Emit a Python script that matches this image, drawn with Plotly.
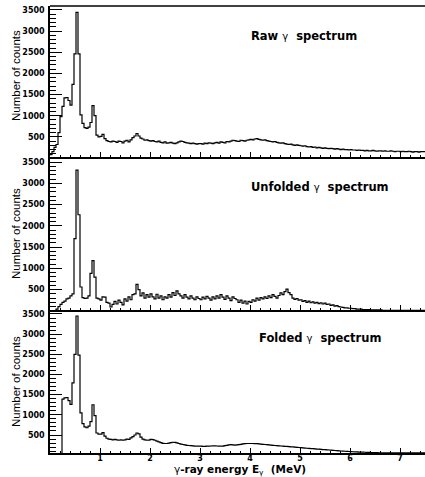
import plotly.graph_objects as go

# ---------------- data ----------------
bin_width = 0.04          # MeV
n_bins = 188              # 0 .. 7.52 MeV

raw_counts = (
    [80, 150, 250, 320, 600, 980, 1220, 1420, 1430, 1360, 1250, 1740, 2460, 3440, 2460, 1020, 820, 720, 700, 730, 840, 1240, 1000, 540, 500]
    + [510, 560, 460, 410, 390, 380, 400, 390, 370, 400, 390, 360, 400, 420, 380, 430, 480, 520, 580, 520, 470, 450, 420, 430, 410]
    + [400, 410, 390, 380, 400, 370, 360, 380, 350, 360, 370, 350, 340, 360, 380, 400, 390, 370, 360, 350, 340, 350, 340, 330, 340]
    + [340, 330, 350, 340, 360, 350, 340, 360, 370, 350, 380, 370, 360, 390, 380, 400, 420, 410, 400, 390, 420, 410, 400, 420, 430]
    + [440, 430, 450, 460, 440, 430, 420, 430, 410, 400, 390, 380, 390, 370, 360, 350, 360, 340, 330, 320, 330, 310, 300, 310, 300]
    + [290, 280, 290, 270, 260, 270, 250, 260, 240, 250, 240, 230, 240, 230, 220, 230, 220, 210, 220, 210, 200, 210, 200, 200, 190]
    + [200, 190, 190, 180, 190, 180, 180, 170, 180, 170, 170, 180, 170, 160, 170, 170, 160, 170, 160, 160, 170, 160, 150, 160, 160]
    + [150, 160, 150, 150, 160, 150, 140, 150, 150, 140, 150, 150, 150]
)

unfolded_counts = (
    [0, 0, 0, 40, 100, 150, 200, 230, 280, 300, 350, 400, 1700, 3310, 2260, 560, 310, 290, 300, 350, 880, 1180, 790, 300, 280]
    + [250, 330, 320, 200, 180, 90, 150, 220, 160, 250, 200, 140, 280, 230, 330, 260, 380, 400, 620, 500, 350, 420, 300, 380, 320]
    + [400, 330, 280, 390, 300, 350, 260, 330, 300, 380, 320, 430, 360, 470, 400, 350, 300, 380, 320, 280, 350, 300, 260, 330, 290]
    + [260, 320, 280, 340, 300, 250, 330, 280, 350, 300, 380, 320, 270, 350, 300, 240, 330, 290, 260, 200, 250, 180, 230, 160, 220]
    + [200, 260, 230, 300, 250, 310, 280, 330, 290, 350, 310, 380, 340, 300, 360, 420, 380, 450, 510, 430, 380, 300, 270, 290, 250]
    + [260, 220, 240, 200, 230, 190, 210, 180, 200, 170, 190, 160, 180, 150, 160, 130, 140, 110, 120, 100, 90, 80, 70, 70, 60]
    + [60, 50, 50, 40, 40, 40, 30, 30, 30, 30, 20, 20, 20, 20, 20, 20, 10, 10, 10, 10, 10, 10, 10, 10, 10]
    + [10, 10, 10, 10, 10, 10, 10, 10, 10, 10, 10, 10, 10]
)

folded_counts = (
    [0, 0, 0, 0, 0, 0, 1390, 1420, 1430, 1350, 1260, 1790, 2500, 3450, 2480, 1050, 780, 700, 680, 720, 830, 1250, 980, 550, 520]
    + [520, 560, 470, 420, 400, 390, 380, 390, 380, 370, 380, 370, 380, 400, 390, 430, 460, 500, 550, 530, 450, 400, 380, 370, 375]
    + [390, 385, 370, 350, 330, 310, 295, 290, 290, 300, 310, 320, 315, 305, 290, 275, 265, 255, 245, 240, 235, 230, 225, 225, 222]
    + [222, 220, 220, 222, 225, 228, 230, 232, 228, 225, 222, 225, 235, 245, 255, 260, 255, 250, 255, 260, 270, 280, 285, 290, 290]
    + [290, 290, 288, 285, 280, 275, 270, 265, 260, 255, 250, 245, 240, 235, 232, 228, 224, 220, 216, 212, 208, 205, 200, 195, 190]
    + [185, 180, 176, 172, 168, 164, 160, 156, 152, 148, 144, 140, 136, 132, 128, 124, 120, 116, 112, 108, 104, 100, 97, 94, 91]
    + [88, 85, 82, 80, 78, 76, 74, 72, 70, 68, 66, 64, 62, 61, 60, 59, 58, 58, 57, 57, 56, 56, 56, 55, 55]
    + [55, 55, 55, 55, 55, 55, 55, 55, 55, 55, 55, 55, 55]
)

panel_titles = ["Raw ", "Unfolded ", "Folded "]
y_title = "Number of counts"
x_tick_values = [1, 2, 3, 4, 5, 6, 7]
x_tick_labels = ["1", "2", "3", "4", "5", "6", "7"]

# ---------------- figure ----------------
W, H = 425, 477
ML, MR, MT, MB = 50, 0, 6, 24
plot_h = H - MT - MB

def py2paper(py):
    return (H - MB - py) / plot_h

def px2paper(px):
    return (px - ML) / (W - ML - MR)

edges = [i * bin_width for i in range(n_bins + 1)]

fig = go.Figure()
series = [raw_counts, unfolded_counts, folded_counts]
for k, vals in enumerate(series):
    sfx = "" if k == 0 else str(k + 1)
    fig.add_trace(go.Scatter(
        x=edges, y=list(vals) + [vals[-1]],
        mode="lines", line=dict(shape="hv", color="black", width=1.2),
        xaxis="x" + sfx, yaxis="y" + sfx, showlegend=False, hoverinfo="skip"))

tick_font = dict(family="DejaVu Sans", size=8, color="black", weight="bold")

# panel pixel bounds (top, bottom) and y ranges
panels = [(6, 157, [24, 3593]), (157, 310, [19, 3618]), (310, 453, [54, 3599])]

layout = dict(
    width=W, height=H, margin=dict(l=ML, r=MR, t=MT, b=MB),
    paper_bgcolor="white", plot_bgcolor="white", showlegend=False,
)
for k, (top, bot, yr) in enumerate(panels):
    sfx = "" if k == 0 else str(k + 1)
    layout["xaxis" + sfx] = dict(
        domain=[0, 1], anchor="y" + sfx, range=[0, 7.5],
        showline=True, linecolor="black", linewidth=1.6,
        ticks="inside", ticklen=5, tickwidth=1, tickcolor="black",
        tickmode="array", tickvals=x_tick_values, ticktext=x_tick_labels,
        minor=dict(ticks="inside", ticklen=2.5, tickwidth=1, tickcolor="black",
                   tickmode="linear", tick0=0, dtick=0.2),
        showticklabels=(k == 2), tickfont=tick_font, ticklabelstandoff=-3,
        showgrid=False, zeroline=False,
    )
    if k < 2:
        layout["xaxis" + sfx]["matches"] = "x3"
    layout["yaxis" + sfx] = dict(
        domain=[py2paper(bot), py2paper(top)], anchor="x" + sfx, range=yr,
        showline=True, linecolor="black", linewidth=1.6,
        ticks="inside", ticklen=12, tickwidth=1, tickcolor="black",
        tickmode="linear", tick0=500, dtick=500,
        minor=dict(ticks="inside", ticklen=6, tickwidth=1, tickcolor="black",
                   tickmode="linear", tick0=0, dtick=100),
        tickfont=tick_font, ticklabelstandoff=2,
        showgrid=False, zeroline=False,
    )

fig.update_layout(**layout)

# top frame line of first panel
fig.add_shape(type="line", xref="paper", yref="paper", x0=0, x1=1,
              y0=py2paper(6), y1=py2paper(6), line=dict(color="black", width=1.6))

annotations = []
title_centers = [(304, 36), (320, 187), (320, 338)]
ytitle_centers = [76, 234, 382]
for k in range(3):
    cx, cy = title_centers[k]
    annotations.append(dict(
        xref="paper", yref="paper", x=px2paper(cx), y=py2paper(cy),
        text="<b>" + panel_titles[k] + "</b>" + "<span style='font-size:10px'>γ</span>" + "<b>  spectrum</b>",
        showarrow=False, xanchor="center", yanchor="middle",
        font=dict(family="DejaVu Sans", size=11.5, color="black")))
    annotations.append(dict(
        xref="paper", yref="paper", x=px2paper(16), y=py2paper(ytitle_centers[k]),
        text=y_title, textangle=-90, showarrow=False,
        xanchor="center", yanchor="middle",
        font=dict(family="Liberation Sans", size=11.5, color="black")))

annotations.append(dict(
    xref="paper", yref="paper", x=px2paper(240), y=py2paper(470),
    text="γ<b>-ray energy E</b><sub>γ</sub><b>  (MeV)</b>",
    showarrow=False, xanchor="center", yanchor="middle",
    font=dict(family="DejaVu Sans", size=10.5, color="black")))

fig.update_layout(annotations=annotations)
fig.write_html("out.html")
